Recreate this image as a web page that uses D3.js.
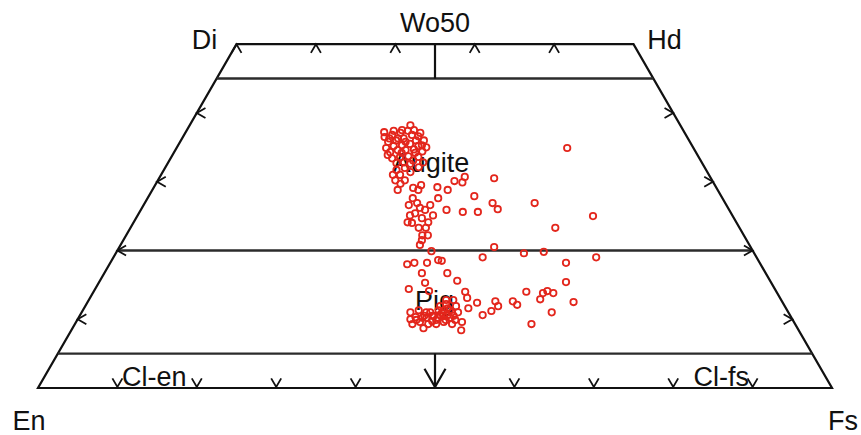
<!DOCTYPE html>
<html>
<head>
<meta charset="utf-8">
<script src="https://cdn.jsdelivr.net/npm/d3@7"></script>
<style>
  body { margin: 0; background: #ffffff; }
  text { font-family: "Liberation Sans", Arial, Helvetica, sans-serif; fill: #111; }
</style>
</head>
<body>
<svg id="chart" width="861" height="435"></svg>
<script>
// Pyroxene analyses: Wo and Fs in mol%, En makes up the rest to 100.
const pyroxeneWo = [
  38.2, 34.9, 36.5, 35.8, 36.8, 36.0, 37.1, 36.3, 37.4, 36.8, 36.0, 37.1, 36.0,
  34.9, 34.3, 35.2, 34.6, 35.3, 34.6, 35.5, 34.7, 35.2, 34.4, 35.0,
  33.4, 32.7, 33.6, 32.8, 33.7, 33.1, 33.6, 31.7, 31.0, 32.0, 31.4, 30.2, 29.7, 32.1, 32.8,
  37.2, 36.3, 37.4, 36.3, 37.5, 35.8, 37.5, 36.6, 35.3, 33.9, 34.2, 32.6, 34.2, 31.0, 30.2, 28.8,
  30.5, 30.1, 29.9, 30.7, 29.1, 29.5, 29.2, 28.8, 27.9, 26.9, 26.0, 26.9, 25.0, 23.3,
  27.6, 25.6, 25.6, 25.9, 24.1, 24.0, 22.2, 22.2,
  27.6, 26.9, 26.2, 25.4, 25.9, 26.6, 24.7, 24.1, 23.3, 23.3, 25.1, 28.8, 26.6, 25.1,
  20.8, 21.5, 20.5, 19.9, 19.0, 19.6, 19.8, 19.0, 18.2, 18.0, 18.2, 18.2, 18.6, 18.5,
  16.7, 16.7, 15.6, 15.3, 15.4, 14.4, 14.1, 14.0, 13.1, 14.0, 13.8, 14.1, 13.8,
  12.4, 12.6, 11.9, 12.6, 12.1, 12.5, 12.9, 12.8, 12.8, 11.6, 11.0, 10.6, 11.2,
  10.0, 10.3, 10.2, 9.7, 10.2, 10.5, 10.6, 11.0, 9.6, 8.7, 8.4, 9.3,
  11.0, 11.3, 10.2, 11.0, 10.5, 11.3, 10.9, 9.9, 11.3, 10.5, 9.6, 9.3, 9.9, 9.6, 9.3,
  11.9, 12.2, 11.9, 9.3, 9.9,
  9.9, 10.5, 10.5, 10.6, 11.3, 11.6, 10.2, 9.3, 11.0, 11.0
];
const pyroxeneFs = [
  27.8, 49.2, 25.4, 26.2, 26.2, 27.1, 27.1, 27.9, 27.9, 28.7, 29.6, 29.6, 30.6,
  26.4, 27.2, 27.2, 28.0, 28.2, 29.0, 29.1, 30.0, 30.3, 31.2, 31.4,
  27.9, 28.8, 28.8, 29.7, 29.8, 30.7, 31.1, 29.3, 30.1, 30.2, 31.2, 29.9, 30.8, 31.9, 32.1,
  25.0, 26.1, 26.1, 27.2, 27.1, 28.4, 28.6, 29.6, 30.7, 27.1, 28.7, 30.6, 30.4, 29.2, 31.1, 30.9,
  42.2, 37.4, 38.5, 38.4, 32.7, 33.5, 35.7, 37.2, 41.0, 43.8, 44.9, 49.1, 57.4, 53.5,
  36.6, 40.7, 42.6, 38.5, 34.5, 35.1, 37.3, 38.0,
  33.4, 34.3, 35.0, 34.8, 35.8, 36.1, 36.0, 37.1, 36.3, 37.2, 37.2, 33.5, 33.4, 34.3,
  37.7, 37.6, 47.2, 39.6, 46.5, 51.4, 53.8, 60.8, 57.4, 37.5, 38.3, 39.9, 41.1, 41.6,
  40.0, 43.2, 45.0, 41.1, 58.8, 39.5, 42.2, 46.8, 47.5, 54.5, 56.7, 57.1, 58.0,
  49.1, 51.3, 52.0, 53.5, 54.3, 61.2, 56.8, 45.0, 45.9, 48.4, 59.2, 50.7, 51.5,
  41.9, 42.4, 43.3, 44.8, 45.3, 45.8, 46.3, 46.6, 48.6, 44.2, 49.1, 57.5,
  41.4, 42.3, 43.8, 43.9, 44.6, 44.8, 45.4, 46.4, 46.2, 47.1, 43.3, 44.5, 45.2, 46.3, 47.5,
  44.7, 45.3, 46.7, 42.5, 47.6,
  42.7, 43.4, 44.4, 45.3, 45.5, 45.8, 46.8, 45.5, 43.4, 47.4
];

// Wo contours drawn across the quadrilateral, and tick positions (mol%)
const woGuides = [45, 20, 5];
const sideTickWo = [10, 20, 30, 40];
const topTickFs = [0, 10, 20, 30, 40];
const baseTickFs = [10, 20, 30, 40, 60, 70, 80, 90];

const svg = d3.select("#chart");

// Ternary projection: horizontal position follows Fs + Wo/2, vertical follows Wo
const side = 794;
const x = d3.scaleLinear().domain([0, 100]).range([38, 38 + side]);
const y = d3.scaleLinear().domain([0, 100]).range([388, 388 - side * Math.sqrt(3) / 2]);
const px = (wo, fs) => x(fs + wo / 2);
const py = (wo) => y(wo);

const ink = "#111";

// Arrowhead drawn as two short arms meeting at the tip
function arrowHead(g, tx, ty, angle, len, width) {
  const spread = Math.PI / 6;
  const a1 = angle + Math.PI - spread, a2 = angle + Math.PI + spread;
  g.append("path")
    .attr("d", `M${tx + len * Math.cos(a1)},${ty + len * Math.sin(a1)}L${tx},${ty}L${tx + len * Math.cos(a2)},${ty + len * Math.sin(a2)}`)
    .attr("fill", "none").attr("stroke", ink).attr("stroke-width", width)
    .attr("stroke-linejoin", "miter");
}

const frame = svg.append("g");

// Outline of the En–Fs–Hd–Di quadrilateral
const corners = [[0, 0], [0, 100], [50, 50], [50, 0]]; // [Wo, Fs]
frame.append("path")
  .attr("d", d3.line()(corners.map(c => [px(c[0], c[1]), py(c[0])])) + "Z")
  .attr("fill", "none").attr("stroke", ink).attr("stroke-width", 2.2)
  .attr("stroke-linejoin", "miter");

// Wo contours
frame.selectAll("line.guide").data(woGuides).join("line")
  .attr("class", "guide")
  .attr("x1", d => px(d, 0)).attr("x2", d => px(d, 100 - d))
  .attr("y1", d => py(d)).attr("y2", d => py(d))
  .attr("stroke", "#2b2b2b").attr("stroke-width", 2.4);

// Central divides at En = Fs
frame.append("line")
  .attr("x1", px(50, 25)).attr("x2", px(45, 27.5))
  .attr("y1", py(50)).attr("y2", py(45))
  .attr("stroke", ink).attr("stroke-width", 2.2);
frame.append("line")
  .attr("x1", px(5, 47.5)).attr("x2", px(0, 50))
  .attr("y1", py(5)).attr("y2", py(0) - 1)
  .attr("stroke", ink).attr("stroke-width", 2.2);
arrowHead(frame, px(0, 50), py(0) - 1, Math.PI / 2, 21, 2.2);

// Ticks along the sides
sideTickWo.forEach(w => {
  arrowHead(frame, px(w, 0), py(w), Math.PI, 10, 1.8);
  arrowHead(frame, px(w, 100 - w), py(w), 0, 10, 1.8);
});
topTickFs.forEach(f => arrowHead(frame, px(50, f), py(50), -Math.PI / 2, 10, 1.8));
baseTickFs.forEach(f => arrowHead(frame, px(0, f), py(0) - 1, Math.PI / 2, 10, 1.8));

// Corner labels
const labels = svg.append("g").attr("font-size", 27).attr("text-anchor", "middle");
labels.append("text").attr("x", px(0, 0) - 9).attr("y", py(0) + 42).text("En");
labels.append("text").attr("x", px(0, 100) + 11).attr("y", py(0) + 42).text("Fs");
labels.append("text").attr("x", px(50, 0) - 32).attr("y", py(50) + 5).text("Di");
labels.append("text").attr("x", px(50, 50) + 31).attr("y", py(50) + 5).text("Hd");
labels.append("text").attr("x", px(50, 25)).attr("y", py(50) - 12).text("Wo50");

// Field names
labels.append("text").attr("x", px(31.4, 33.8)).attr("y", py(31.4)).text("Augite");
labels.append("text").attr("x", px(11.3, 44.3)).attr("y", py(11.3)).text("Pig");
labels.append("text").attr("x", px(0.3, 14.5)).attr("y", py(0.3)).text("Cl-en");
labels.append("text").attr("x", px(0.3, 85.9)).attr("y", py(0.3)).text("Cl-fs");

// Analyses
const points = pyroxeneWo.map((wo, i) => ({ wo, fs: pyroxeneFs[i], en: 100 - wo - pyroxeneFs[i] }));
svg.append("g").selectAll("circle").data(points).join("circle")
  .attr("cx", d => px(d.wo, d.fs))
  .attr("cy", d => py(d.wo))
  .attr("r", 3.2)
  .attr("fill", "none")
  .attr("stroke", "#e3261c")
  .attr("stroke-width", 1.8);
</script>
</body>
</html>
